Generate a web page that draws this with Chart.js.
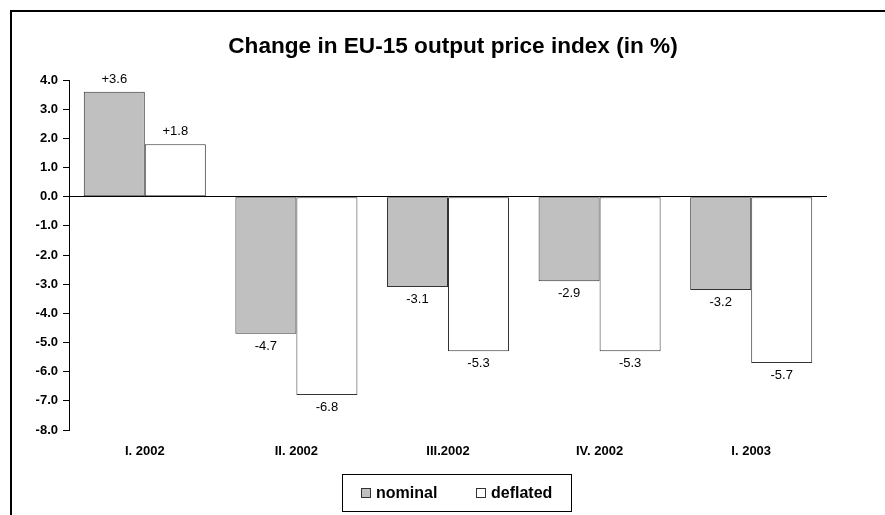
<!DOCTYPE html>
<html>
<head>
<meta charset="utf-8">
<script src="https://cdn.jsdelivr.net/npm/chart.js@4.4.0/dist/chart.umd.min.js"></script>
<style>
  html, body { margin: 0; padding: 0; background: #fff; overflow: hidden; }
  canvas { display: block; }
</style>
</head>
<body>
<canvas id="grafico" width="885" height="515"></canvas>
<script>
// dados
const trimestres = ['I. 2002', 'II. 2002', 'III.2002', 'IV. 2002', 'I. 2003'];
const nominal = [3.6, -4.7, -3.1, -2.9, -3.2];
const deflated = [1.8, -6.8, -5.3, -5.3, -5.7];
const nomesSeries = ['nominal', 'deflated'];
const titulo = 'Change in EU-15 output price index (in %)';

const fonte = '"Liberation Sans", Arial, sans-serif';
const corCinza = '#c0c0c0';
const corBorda = '#333333';

// moldura, titulo e legenda (caixa com borda como no Excel)
const pluginMoldura = {
    id: 'moldura',
    beforeDraw(chart) {
        const ctx = chart.ctx;
        ctx.save();
        ctx.fillStyle = '#fff';
        ctx.fillRect(0, 0, chart.width, chart.height);
        ctx.fillStyle = '#000';
        ctx.fillRect(10, 10, 2, chart.height - 10);
        ctx.fillRect(10, 10, chart.width - 10, 2);
        ctx.restore();
    },
    afterDraw(chart) {
        const ctx = chart.ctx;
        ctx.save();
        ctx.fillStyle = '#000';
        ctx.font = 'bold 22.6px ' + fonte;
        ctx.textAlign = 'center';
        ctx.textBaseline = 'middle';
        ctx.fillText(titulo, 453, 47);

        // legenda
        ctx.strokeStyle = '#000';
        ctx.lineWidth = 1;
        ctx.strokeRect(342.5, 474.5, 229, 37);
        const cores = [corCinza, '#ffffff'];
        const posX = [361, 476];
        ctx.font = 'bold 16px ' + fonte;
        ctx.textAlign = 'left';
        nomesSeries.forEach((nome, i) => {
            ctx.fillStyle = cores[i];
            ctx.fillRect(posX[i], 488, 10, 10);
            ctx.strokeStyle = corBorda;
            ctx.strokeRect(posX[i] + 0.5, 488.5, 9, 9);
            ctx.fillStyle = '#000';
            ctx.fillText(nome, posX[i] + 15, 494);
        });
        ctx.restore();
    }
};

// rotulos de valor em cima / embaixo das barras
const pluginRotulos = {
    id: 'rotulos',
    afterDatasetsDraw(chart) {
        const ctx = chart.ctx;
        ctx.save();
        ctx.font = '13px ' + fonte;
        ctx.fillStyle = '#000';
        ctx.textAlign = 'center';
        ctx.textBaseline = 'middle';
        chart.data.datasets.forEach((ds, i) => {
            chart.getDatasetMeta(i).data.forEach((barra, j) => {
                const v = ds.data[j];
                const texto = (v > 0 ? '+' : '') + v.toFixed(1);
                const y = v >= 0 ? barra.y - 12.5 : barra.y + 12.5;
                ctx.fillText(texto, barra.x, y);
            });
        });
        ctx.restore();
    }
};

new Chart(document.getElementById('grafico').getContext('2d'), {
    type: 'bar',
    data: {
        labels: trimestres,
        datasets: [{
            label: nomesSeries[0],
            data: nominal,
            backgroundColor: corCinza,
            borderColor: corBorda,
            borderWidth: 1,
            borderSkipped: false,
            categoryPercentage: 0.805,
            barPercentage: 1.0
        }, {
            label: nomesSeries[1],
            data: deflated,
            backgroundColor: '#ffffff',
            borderColor: corBorda,
            borderWidth: 1,
            borderSkipped: false,
            categoryPercentage: 0.805,
            barPercentage: 1.0
        }]
    },
    options: {
        responsive: false,
        animation: false,
        layout: {
            padding: { left: 10, right: 58, top: 80, bottom: 0 }
        },
        plugins: {
            legend: { display: false },
            title: { display: false },
            tooltip: { enabled: false }
        },
        scales: {
            x: {
                grid: { display: false, drawTicks: false },
                border: { display: false },
                ticks: {
                    color: '#000',
                    padding: 14,
                    maxRotation: 0,
                    font: { family: fonte, size: 13, weight: 'bold' }
                },
                afterFit: (escala) => { escala.height = 85; }
            },
            y: {
                min: -8,
                max: 4,
                border: { color: '#000', width: 1 },
                grid: {
                    color: (c) => (c.tick && c.tick.value === 0 ? '#000' : 'rgba(0,0,0,0)'),
                    tickColor: '#000',
                    tickLength: 6,
                    lineWidth: 1
                },
                ticks: {
                    stepSize: 1,
                    color: '#000',
                    padding: 5,
                    font: { family: fonte, size: 13, weight: 'bold' },
                    callback: (v) => v.toFixed(1)
                },
                afterFit: (escala) => { escala.width = 59; }
            }
        }
    },
    plugins: [pluginMoldura, pluginRotulos]
});
</script>
</body>
</html>
